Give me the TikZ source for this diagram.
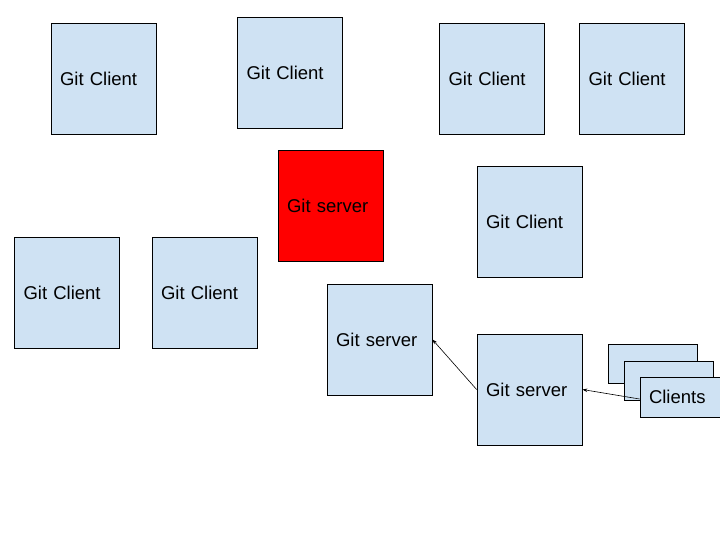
\documentclass[tikz,border=0pt]{standalone}
\usepackage{fontspec}
\setmainfont{Liberation Sans}
\usetikzlibrary{arrows.meta}
\definecolor{boxblue}{HTML}{CFE2F3}
\tikzset{
	gitbox/.style = {draw, line width=0.8pt, fill=boxblue, minimum width=105pt, minimum height=111pt,
		text width=87pt, inner xsep=9pt, align=left, font=\fontsize{18.5}{22}\selectfont},
	stackbox/.style = {gitbox, minimum width=89pt, text width=71pt, minimum height=39pt},
	link/.style = {-{Stealth[length=5pt,width=3.5pt]}, line width=0.6pt}
}
\begin{document}
\begin{tikzpicture}[x=1pt, y=-1pt]
\useasboundingbox (0,0) rectangle (720,540);

% clients, top row
\node[gitbox] (cliA) at (103.5,78.5) {Git Client};
\node[gitbox] (cliB) at (290,72.5) {Git Client};
\node[gitbox] (cliC) at (492,78.5) {Git Client};
\node[gitbox] (cliD) at (632,78.5) {Git Client};

% the central server
\node[gitbox, fill=red] (srvRed) at (330.5,206) {Git server};
\node[gitbox] (cliE) at (529.5,222) {Git Client};

% clients, left
\node[gitbox] (cliF) at (67,293) {Git Client};
\node[gitbox] (cliG) at (204.5,293) {Git Client};

% servers in a chain
\node[gitbox] (srvH) at (379.5,339.5) {Git server};
\node[gitbox] (srvI) at (529.5,389.5) {Git server};

% stack of clients
\node[stackbox] (stk1) at (652.5,364) {};
\node[stackbox] (stk2) at (668.5,380.5) {};
\node[stackbox, minimum height=40pt] (stk3) at (684.5,397) {Clients};

\draw[link] (srvI.west) -- (srvH.east);
\draw[link] ([yshift=-2pt]stk3.west) -- (srvI.east);

\end{tikzpicture}
\end{document}
